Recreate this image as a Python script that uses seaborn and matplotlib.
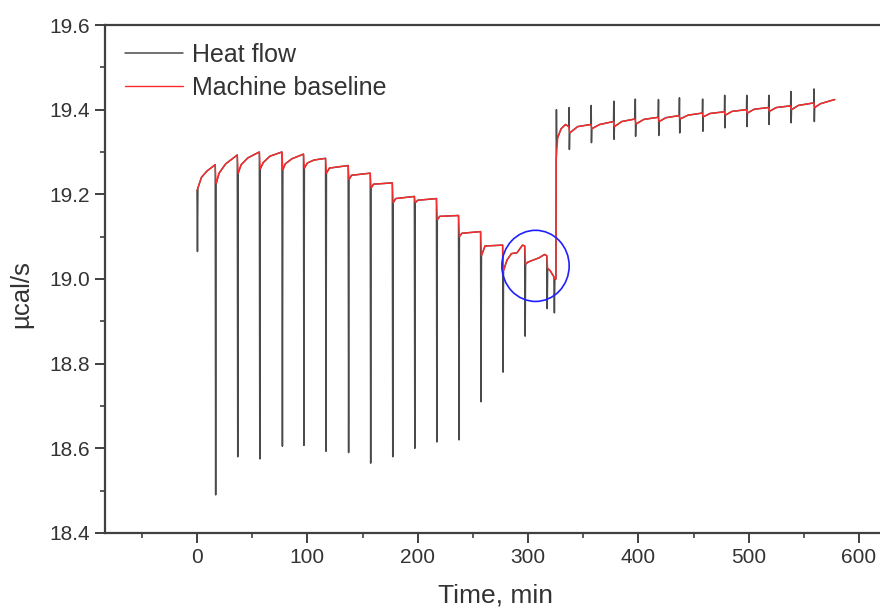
import numpy as np
import pandas as pd
import matplotlib
matplotlib.use("Agg")
import matplotlib.pyplot as plt
from matplotlib.patches import Ellipse
from matplotlib.ticker import MultipleLocator
import seaborn as sns

# baseline knots (time in min, value in ucal/s)
base_t = [0, 0.8, 4, 9, 16.5,
          17.3, 20, 26, 36.5,
          37.3, 40, 46, 56.5,
          57.3, 60, 66, 77,
          77.8, 80, 86, 96.5,
          97.3, 100, 106, 116.5,
          117.3, 120, 137,
          137.8, 140, 157,
          157.8, 160, 177,
          177.8, 180, 197,
          197.8, 200, 217,
          217.8, 220, 237,
          237.8, 240, 257,
          257.8, 261, 277,
          277.8, 281, 285, 290, 295, 297,
          297.8, 300, 310, 315, 317,
          317.8, 320, 323.5,
          324.3, 325.3, 325.5, 327, 330, 334, 337,
          337.8, 345, 357,
          357.8, 365, 377.5,
          378.3, 385, 397,
          397.8, 405, 418,
          418.8, 425, 437,
          437.8, 445, 458,
          458.8, 465, 478,
          478.8, 485, 498,
          498.8, 505, 518,
          518.8, 525, 538,
          538.8, 545, 559,
          559.8, 565, 578]
base_y = [19.21, 19.215, 19.24, 19.255, 19.27,
          19.225, 19.25, 19.272, 19.293,
          19.25, 19.27, 19.286, 19.30,
          19.26, 19.275, 19.29, 19.30,
          19.258, 19.272, 19.284, 19.295,
          19.262, 19.274, 19.281, 19.285,
          19.25, 19.262, 19.268,
          19.235, 19.245, 19.25,
          19.215, 19.224, 19.227,
          19.18, 19.19, 19.195,
          19.18, 19.186, 19.19,
          19.14, 19.148, 19.15,
          19.10, 19.108, 19.112,
          19.055, 19.078, 19.08,
          19.02, 19.045, 19.06, 19.062, 19.08, 19.078,
          19.035, 19.04, 19.05, 19.058, 19.055,
          19.025, 19.02, 19.005,
          19.0, 19.0, 19.28, 19.335, 19.355, 19.365, 19.36,
          19.345, 19.36, 19.365,
          19.355, 19.365, 19.372,
          19.36, 19.372, 19.378,
          19.366, 19.377, 19.382,
          19.372, 19.381, 19.386,
          19.378, 19.387, 19.392,
          19.383, 19.391, 19.395,
          19.387, 19.396, 19.40,
          19.392, 19.401, 19.405,
          19.396, 19.405, 19.409,
          19.40, 19.41, 19.416,
          19.405, 19.414, 19.424]

# injections before saturation: downward spikes
down_t = [0, 16.5, 36.5, 56.5, 77, 96.5, 116.5, 137, 157, 177, 197, 217,
          237, 257, 277, 297, 317, 323.5]
down_min = [19.065, 18.49, 18.58, 18.575, 18.605, 18.607, 18.593, 18.59,
            18.565, 18.58, 18.60, 18.615, 18.62, 18.71, 18.78, 18.865,
            18.93, 18.92]

# injections after the jump: small up/down spikes
up_t = [325.5, 337, 357, 377.5, 397, 418, 437, 458, 478, 498, 518, 538, 559]
up_max = [19.40, 19.405, 19.41, 19.42, 19.425, 19.424, 19.428, 19.425,
          19.434, 19.434, 19.434, 19.443, 19.449]
up_min = [19.33, 19.306, 19.322, 19.33, 19.337, 19.339, 19.345, 19.349,
          19.357, 19.36, 19.365, 19.369, 19.372]

base = pd.DataFrame({"t": base_t, "y": base_y})

# heat flow = baseline with the injection spikes inserted
spikes = pd.concat([
    pd.DataFrame({"t": np.array(down_t) + 0.4, "y": down_min}),
    pd.DataFrame({"t": np.array(up_t) + 0.25, "y": up_max}),
    pd.DataFrame({"t": np.array(up_t) + 0.5, "y": up_min}),
])
heat = pd.concat([base, spikes]).sort_values("t", kind="stable").reset_index(drop=True)

sns.set_style("ticks")
plt.rcParams["font.family"] = ["Liberation Sans", "DejaVu Sans"]

fig = plt.figure(figsize=(8.8, 6.1), dpi=100)
ax = fig.add_axes([105 / 880, 77 / 610, 781.6 / 880, 508 / 610])

sns.lineplot(data=heat, x="t", y="y", ax=ax, color="#4a4a4a", lw=1.1,
             sort=False, estimator=None, label="Heat flow")
sns.lineplot(data=base, x="t", y="y", ax=ax, color="#ff2a2a", lw=1.0,
             sort=False, estimator=None, label="Machine baseline")

ax.add_patch(Ellipse((306.8, 19.031), width=61, height=0.168, fill=False,
                     edgecolor="#2020ff", lw=1.2, zorder=5))

ax.set_xlim(-83.4, 625)
ax.set_ylim(18.4, 19.6)
ax.xaxis.set_major_locator(MultipleLocator(100))
ax.xaxis.set_minor_locator(MultipleLocator(50))
ax.yaxis.set_major_locator(MultipleLocator(0.2))
ax.yaxis.set_minor_locator(MultipleLocator(0.1))
ax.yaxis.set_major_formatter(matplotlib.ticker.FormatStrFormatter("%.1f"))

for s in ax.spines.values():
    s.set_color("#404040")
    s.set_linewidth(1.6)
ax.tick_params(which="major", length=7, width=1.4, color="#404040",
               labelsize=15, labelcolor="#333333", pad=4)
ax.tick_params(which="minor", length=3.6, width=1.2, color="#404040")

ax.set_xlabel("Time, min", fontsize=19, color="#333333")
ax.set_ylabel("µcal/s", fontsize=18.5, color="#333333")
ax.xaxis.set_label_coords(0.5, -0.100)
ax.yaxis.set_label_coords(-0.092, 0.47)

leg = ax.legend(loc="upper left", bbox_to_anchor=(20 / 781.6, 0.965),
                frameon=False, fontsize=18, handlelength=2.3,
                handletextpad=0.4, labelspacing=0.37, borderaxespad=0,
                borderpad=0)
for txt in leg.get_texts():
    txt.set_color("#333333")

fig.savefig("out.png", dpi=100)
